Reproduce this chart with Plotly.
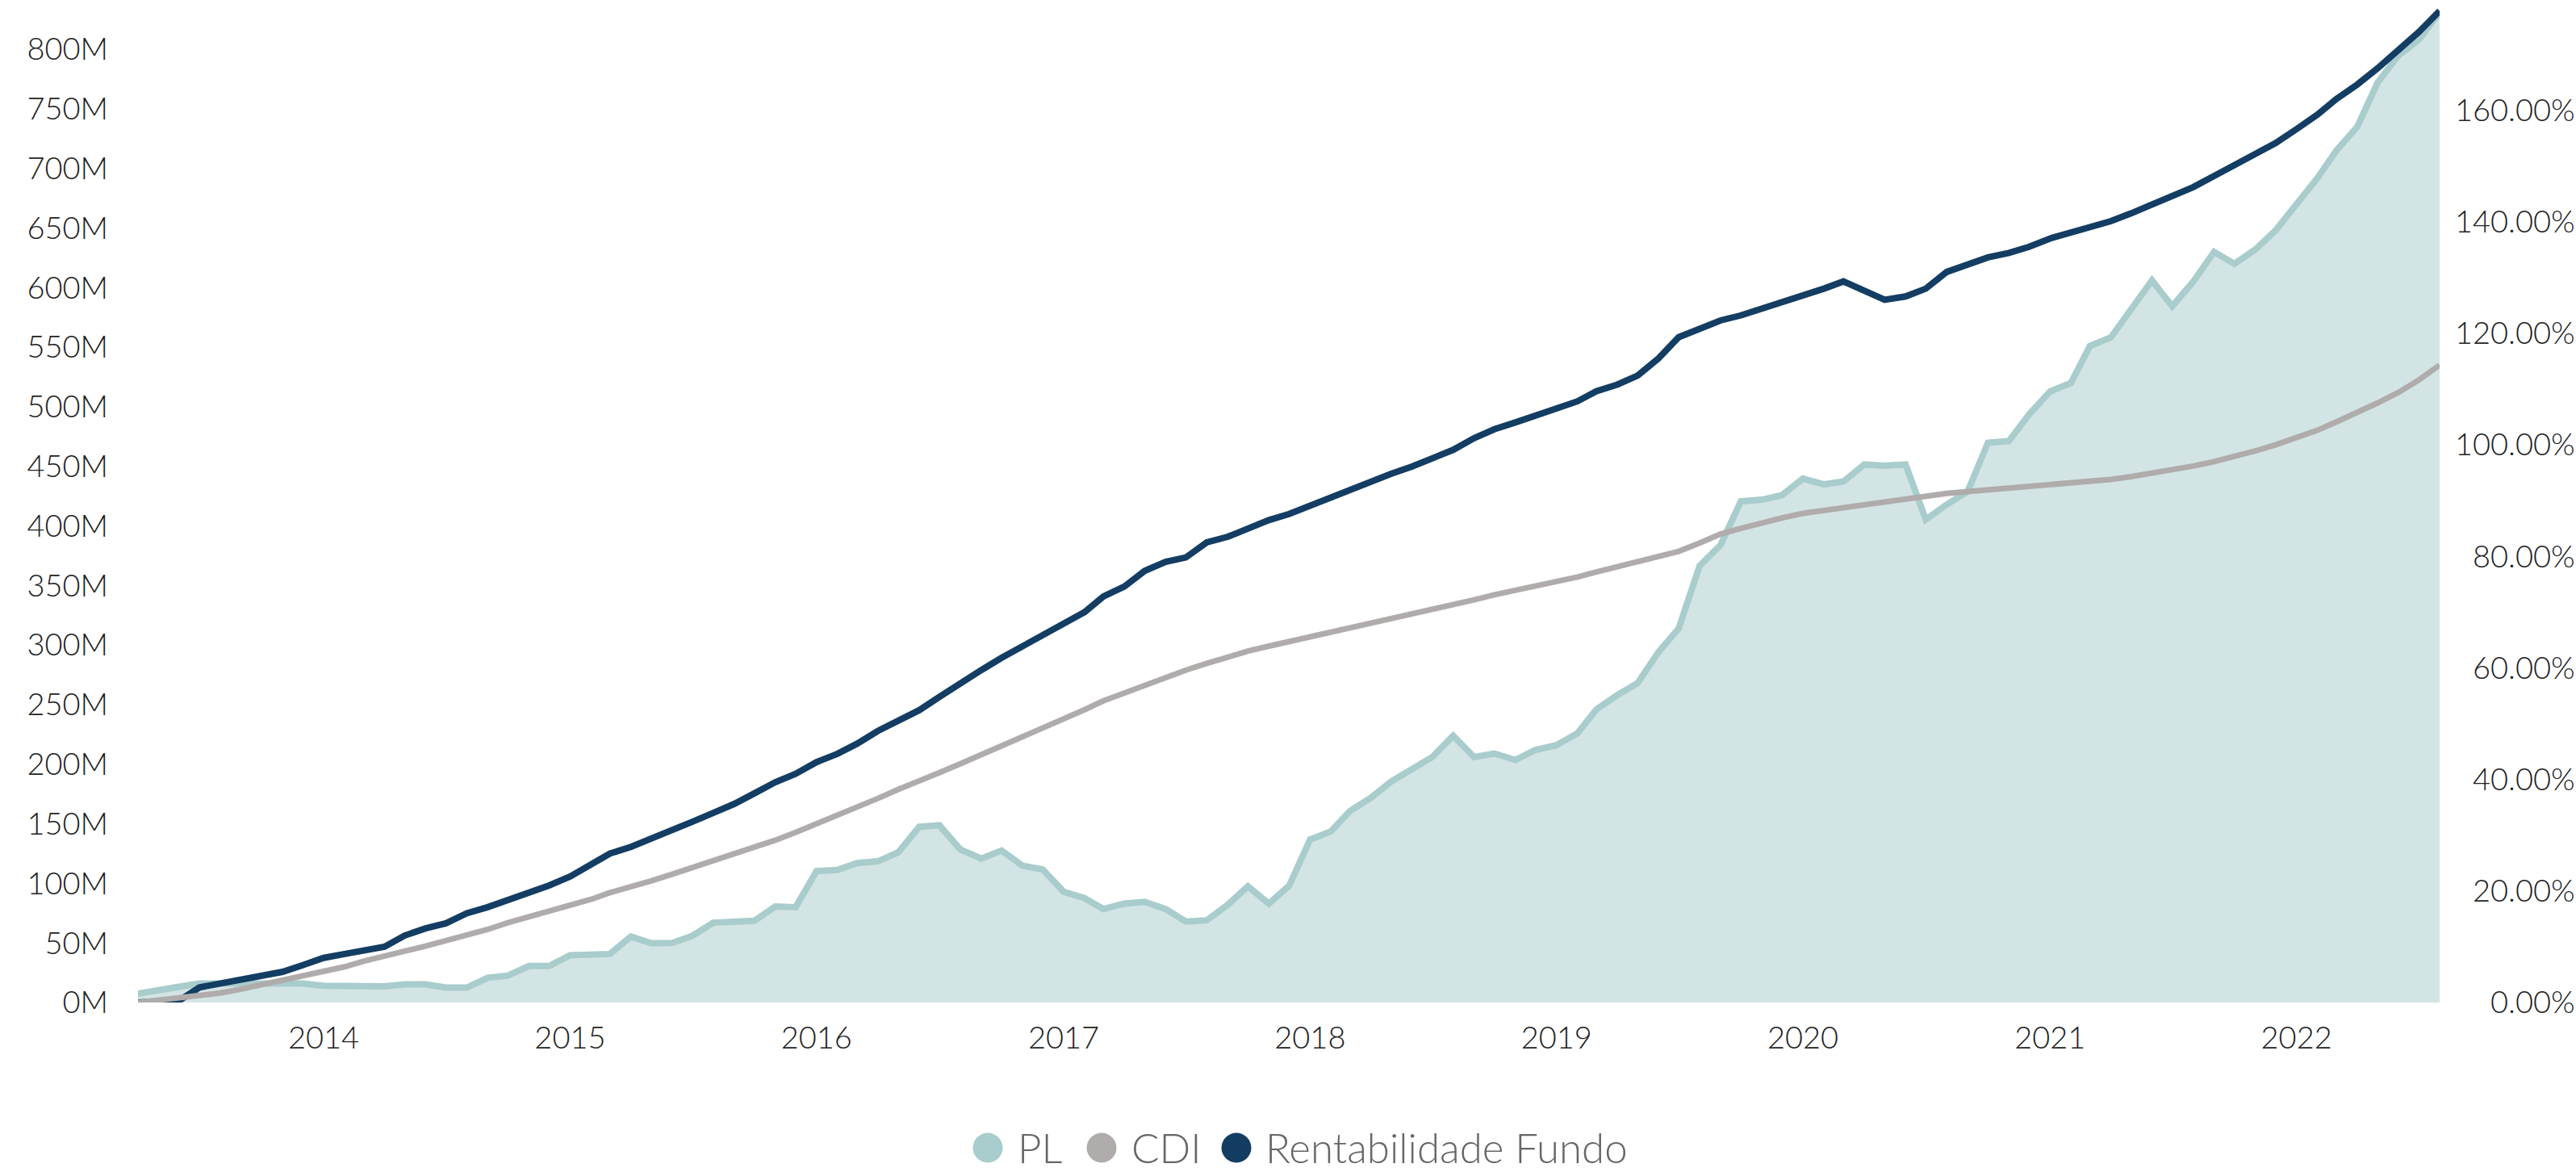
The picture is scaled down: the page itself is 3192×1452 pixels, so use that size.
import pandas as pd
import plotly.graph_objects as go

# ---------------- data (monthly, Apr 2013 .. Aug 2022) ----------------
dates = pd.date_range("2013-04-01", periods=113, freq="MS")

# PL (patrimônio líquido), millions of R$
pl_m = [
    7.5, 10.9, 13.2, 15.9, 16, 16, 16, 16, 15.9, 14,
    14, 13.6, 13.6, 15.2, 15.2, 12.5, 12.5, 20.8, 22.6, 30.6,
    30.6, 39.6, 40.2, 40.7, 55.4, 49.8, 50, 55.9, 67, 67.8,
    68.6, 80.6, 80, 110.3, 111.2, 117, 118.5, 126, 147.4, 148.7,
    128.4, 120.8, 127.5, 114.8, 111.7, 93, 87.6, 78.5, 83, 84.5,
    78.5, 68, 69, 82, 97.5, 83, 98, 136.7, 143.7, 160.7,
    171.8, 185.4, 196, 206, 224, 206, 209, 203.6, 212, 216,
    226, 246, 258, 268, 294, 314, 366.6, 384, 420.6, 422,
    425.8, 439.7, 434.9, 437.3, 451.6, 450.6, 451.6, 405.3, 418, 429,
    469.8, 471.2, 493.7, 512.8, 520, 551, 558.2, 582, 606, 584.4,
    605, 630, 620, 632, 648, 670, 692, 715, 735, 772,
    795, 808, 831,
]

# CDI accumulated, %
cdi_pct = [
    0, 0.4, 0.8, 1.3, 1.7, 2.4, 3.2, 3.9, 4.7, 5.5,
    6.4, 7.4, 8.4, 9.2, 10.1, 11.0, 12.0, 13.1, 14.3, 15.3,
    16.3, 17.3, 18.5, 19.7, 20.7, 21.8, 23.0, 24.2, 25.3, 26.6,
    27.8, 29.1, 30.5, 32.0, 33.5, 35.0, 36.6, 38.2, 39.6, 41.2,
    42.8, 44.4, 46.0, 47.6, 49.1, 50.7, 52.5, 54.1, 55.5, 57.0,
    58.3, 59.6, 60.8, 62.0, 63.0, 63.9, 64.7, 65.6, 66.4, 67.1,
    67.9, 68.7, 69.6, 70.4, 71.3, 72.2, 73.1, 73.9, 74.6, 75.4,
    76.3, 77.2, 78.1, 79.0, 79.9, 80.9, 82.4, 84.0, 85.0, 86.0,
    86.9, 87.7, 88.2, 88.8, 89.3, 89.9, 90.4, 90.8, 91.3, 91.6,
    91.9, 92.2, 92.5, 92.8, 93.0, 93.4, 93.8, 94.3, 94.9, 95.5,
    96.2, 97.0, 97.9, 98.9, 100.0, 101.3, 102.6, 104.1, 105.7, 107.5,
    109.4, 111.6, 114.3,
]

# Rentabilidade Fundo accumulated, %
fundo_pct = [
    0, 0.15, 0.35, 2.7, 3.4, 4.0, 4.6, 5.5, 6.7, 8.0,
    8.7, 9.2, 10.0, 12.0, 13.3, 14.2, 16.0, 17.1, 18.3, 19.5,
    21.0, 22.6, 24.8, 26.7, 27.9, 29.3, 30.8, 32.4, 34.0, 35.6,
    37.5, 39.5, 41.0, 43.1, 44.6, 46.4, 48.7, 50.5, 52.4, 54.8,
    57.3, 59.6, 61.8, 63.8, 65.8, 68.0, 70.0, 72.8, 74.6, 77.4,
    79.0, 79.8, 82.5, 83.5, 85.0, 86.5, 87.6, 89.1, 90.5, 91.8,
    93.5, 94.8, 96.1, 97.5, 99.1, 101.2, 102.8, 104.0, 105.3, 106.5,
    107.8, 109.6, 110.8, 112.4, 115.5, 119.3, 120.9, 122.3, 123.2, 124.4,
    125.5, 126.5, 128.0, 129.3, 127.5, 126.0, 126.6, 128.0, 131.0, 132.3,
    133.6, 134.4, 135.5, 137.0, 138.0, 139.0, 140.1, 141.5, 143.1, 144.7,
    146.2, 148.2, 150.1, 152.1, 154.1, 156.6, 159.2, 162.0, 164.6, 167.5,
    170.8, 174.0, 177.8,
]

series_names = ["PL", "CDI", "Rentabilidade Fundo"]
left_ticks = list(range(0, 801, 50))
right_ticks = list(range(0, 161, 20))
right_ticktext = [f"{v:.2f}%".rjust(7, "\u2007") for v in right_ticks]

# ---------------- styling ----------------
C_PL_LINE = "#A9CCCC"
C_PL_FILL = "#D3E4E4"
C_CDI = "#B0ACAC"
C_FUNDO = "#133D63"
FONT = "Lato"

W, H = 3192, 1452
ML, MR, MT, MB = 171, 169, 8, 210
PW, PH = W - ML - MR, H - MT - MB

fig = go.Figure()
fig.add_trace(go.Scatter(
    x=dates, y=pl_m, name=series_names[0], mode="lines",
    line=dict(color=C_PL_LINE, width=8), fill="tozeroy", fillcolor=C_PL_FILL,
    yaxis="y", showlegend=False,
))
fig.add_trace(go.Scatter(
    x=dates, y=fundo_pct, name=series_names[2], mode="lines",
    line=dict(color=C_FUNDO, width=8), yaxis="y2", showlegend=False,
))
fig.add_trace(go.Scatter(
    x=dates, y=cdi_pct, name=series_names[1], mode="lines",
    line=dict(color=C_CDI, width=7), yaxis="y2", showlegend=False,
))

tickfont = dict(family=FONT, size=38, color="#222222", weight=300)

fig.update_layout(
    width=W, height=H,
    margin=dict(l=ML, r=MR, t=MT, b=MB, pad=0, autoexpand=False),
    paper_bgcolor="white", plot_bgcolor="white",
    showlegend=False,
    xaxis=dict(
        type="date", range=[dates[0], dates[-1]],
        tick0="2014-01-01", dtick="M12", tickformat="%Y",
        showgrid=False, zeroline=False, showline=False, ticks="",
        tickfont=tickfont, ticklabelstandoff=18, automargin=False,
    ),
    yaxis=dict(
        range=[0, 836], tickvals=left_ticks,
        ticktext=[f"{v}M" for v in left_ticks],
        showgrid=False, zeroline=False, showline=False, ticks="",
        tickfont=tickfont, ticklabelstandoff=36, automargin=False,
    ),
    yaxis2=dict(
        range=[0, 178.6], overlaying="y", side="right",
        tickvals=right_ticks, ticktext=right_ticktext,
        showgrid=False, zeroline=False, showline=False, ticks="",
        tickfont=tickfont, ticklabelstandoff=18, automargin=False,
    ),
)

# ---------------- custom legend (large circles, as in the reference) ----------------
def px_x(px):
    return (px - ML) / PW

def px_y(py):
    return (H - MB - py) / PH

legend_y = 1422
legend_items = [
    (series_names[0], C_PL_LINE, 1224, 1259),
    (series_names[1], C_CDI, 1365, 1400),
    (series_names[2], C_FUNDO, 1532, 1566),
]
for label, color, cx, tx in legend_items:
    fig.add_shape(
        type="circle", xref="paper", yref="paper",
        xsizemode="pixel", ysizemode="pixel",
        xanchor=px_x(cx), yanchor=px_y(legend_y),
        x0=-18.5, x1=18.5, y0=-18.5, y1=18.5,
        fillcolor=color, line=dict(width=0),
    )
    fig.add_annotation(
        text=label, xref="paper", yref="paper",
        x=px_x(tx), y=px_y(legend_y), xanchor="left", yanchor="middle",
        showarrow=False,
        font=dict(family=FONT, size=51, color="#666666", weight=300),
    )

fig.write_html(
    "out.html",
    config={"displayModeBar": False},
    post_script="document.body.style.margin='0';",
)
